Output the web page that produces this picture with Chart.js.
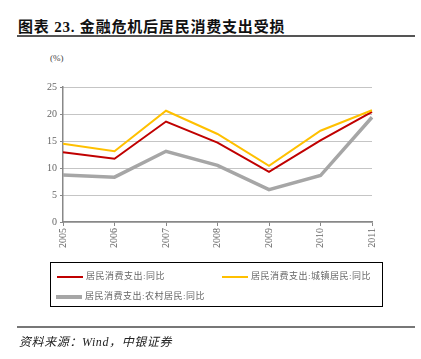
<!DOCTYPE html>
<html>
<head>
<meta charset="utf-8">
<script src="https://cdn.jsdelivr.net/npm/chart.js@4.4.0/dist/chart.umd.min.js"></script>
<style>
  body{margin:0;width:421px;height:359px;overflow:hidden;background:#fff;font-family:"Liberation Serif","Noto Sans CJK SC",serif;position:relative;}
  #title{position:absolute;left:18px;top:15px;font-size:15px;font-weight:bold;color:#111;white-space:nowrap;letter-spacing:0.8px;}
  .rule{position:absolute;left:17px;width:398px;height:2px;background:#555;}
  #unit{position:absolute;left:50px;top:53px;font-size:9px;color:#444;}
  #wrap{position:absolute;left:0;top:0;width:421px;height:359px;}
  #legend{position:absolute;left:50px;top:262px;width:331px;height:43px;border:1px solid #000;}
  .item{position:absolute;font-size:9px;color:#666;white-space:nowrap;line-height:12px;letter-spacing:0.5px;}
  .item span{display:inline-block;vertical-align:middle;margin-right:3px;}
  #source{position:absolute;left:19px;top:332px;font-size:12px;font-style:italic;color:#222;white-space:nowrap;letter-spacing:0.6px;}
</style>
</head>
<body>
<div id="title">图表 23. 金融危机后居民消费支出受损</div>
<div class="rule" style="top:35px"></div>
<div id="unit">(%)</div>
<div id="wrap"><canvas id="myChart" width="421" height="359"></canvas></div>
<div id="legend"></div>
<div class="rule" style="top:326px;background:#777"></div>
<div id="source">资料来源：Wind，中银证券</div>
<script>
const years = ["2005","2006","2007","2008","2009","2010","2011"];
const names = ["居民消费支出:同比","居民消费支出:城镇居民:同比","居民消费支出:农村居民:同比"];
const total = [12.9, 11.7, 18.6, 14.7, 9.3, 15.1, 20.4];
const urban = [14.5, 13.1, 20.6, 16.3, 10.4, 16.9, 20.7];
const rural = [8.7, 8.3, 13.1, 10.5, 6.0, 8.6, 19.4];
const yTicks = [0, 5, 10, 15, 20, 25];

const colors = ["#C00000", "#FFC000", "#A6A6A6"];
const widths = [2, 2, 3.5];
const series = [total, urban, rural];

let ch = document.getElementById("myChart");
new Chart(ch, {
  type: "line",
  data: {
    labels: years,
    datasets: series.map((s, i) => ({
      label: names[i],
      data: s,
      borderColor: colors[i],
      backgroundColor: colors[i],
      borderWidth: widths[i],
      pointRadius: 0,
      tension: 0,
      fill: false,
      order: 2 - i
    }))
  },
  options: {
    responsive: false,
    animation: false,
    layout: {padding: {left: 0, top: 87, right: 49, bottom: 107}},
    plugins: {legend: {display: false}, tooltip: {enabled: false}},
    scales: {
      x: {
        offset: false,
        afterFit: (s) => { s.height = 30; },
        grid: {drawOnChartArea: false, drawTicks: true, tickLength: 4, color: "#888"},
        border: {color: "#888", width: 1.5},
        ticks: {minRotation: 90, maxRotation: 90, color: "#666", padding: 2,
          font: {family: "Liberation Serif", size: 10}}
      },
      y: {
        min: 0, max: 25,
        afterFit: (s) => { s.width = 63; },
        afterBuildTicks: (s) => { s.ticks = yTicks.map(v => ({value: v})); },
        grid: {color: "#8a8a8a", lineWidth: 1, tickLength: 3, tickBorderDash: [0, 0], tickColor: "#888", drawTicks: true},
        border: {color: "#888", width: 1.5, dash: [1, 1]},
        ticks: {color: "#666", padding: 3, font: {family: "Liberation Serif", size: 10}}
      }
    }
  }
});

// html legend built from the series names/colors
const lg = document.getElementById("legend");
const pos = [[6, 7], [171, 7], [5, 27]];
names.forEach((n, i) => {
  const d = document.createElement("div");
  d.className = "item";
  d.style.left = pos[i][0] + "px";
  d.style.top = pos[i][1] + "px";
  d.innerHTML = '<span style="width:26px;height:' + widths[i] + 'px;background:' + colors[i] + '"></span>' + n;
  lg.append(d);
});
</script>
</body>
</html>
